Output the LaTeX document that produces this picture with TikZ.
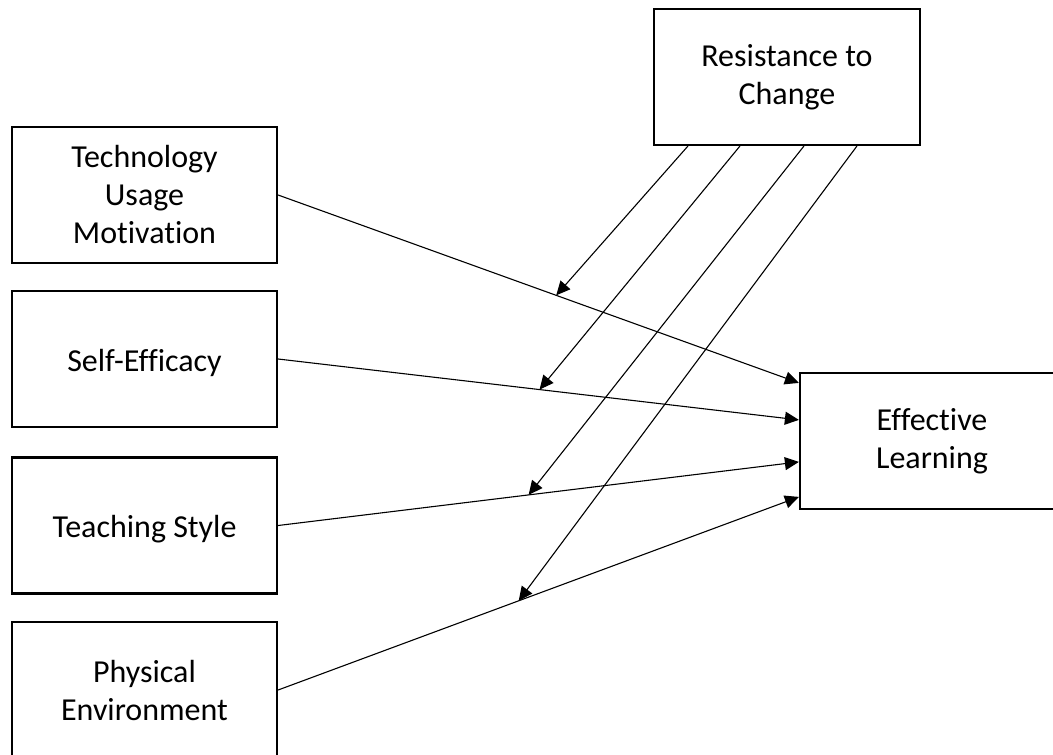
\documentclass[tikz,border=0pt]{standalone}
\usepackage{fontspec}
\setmainfont{Carlito}[Ligatures={NoCommon,NoContextual}]
\usetikzlibrary{arrows.meta,calc}
\begin{document}
\begin{tikzpicture}[x=1pt,y=-1pt,
  box/.style={draw, line width=2.2pt, minimum width=265pt, minimum height=136pt,
    align=center, inner sep=0pt, font=\fontsize{32}{38}\selectfont,
    execute at begin node={\rule{0pt}{30pt}}},
  conn/.style={line width=1.1pt, -{Triangle[length=14pt,width=13pt]}}]
\clip (0,0) rectangle (1053,755);
\fill[white] (0,0) rectangle (1053,755);
% boxes
\node[box] (tech)  at (144.5,195)   {Technology\\Usage\\Motivation};
\node[box] (self)  at (144.5,359)   {Self-Efficacy};
\node[box] (teach) at (144.5,525.5) {Teaching Style};
\node[box] (phys)  at (144.5,690)   {Physical\\Environment};
\node[box, minimum width=266pt] (res) at (787,77) {Resistance to\\Change};
\node[box, minimum width=264pt] (el)  at (932,441) {Effective\\Learning};
% attachment points
\coordinate (e1) at ($(el.north west)+(0,11)$);
\coordinate (e2) at ($(el.north west)+(0,48)$);
\coordinate (e3) at ($(el.north west)+(0,90)$);
\coordinate (e4) at ($(el.north west)+(0,125)$);
\coordinate (r1) at ($(res.south west)+(35,0)$);
\coordinate (r2) at ($(res.south west)+(87,0)$);
\coordinate (r3) at ($(res.south west)+(151,0)$);
\coordinate (r4) at ($(res.south west)+(204,0)$);
% main connectors
\draw[conn] (tech.east)  -- coordinate[pos=0.534] (m1) (e1);
\draw[conn] (self.east)  -- coordinate[pos=0.502] (m2) (e2);
\draw[conn] (teach.east) -- coordinate[pos=0.481] (m3) (e3);
\draw[conn] (phys.east)  -- coordinate[pos=0.462] (m4) (e4);
% moderating connectors
\draw[conn] (r1) -- (m1);
\draw[conn] (r2) -- (m2);
\draw[conn] (r3) -- (m3);
\draw[conn] (r4) -- (m4);
\end{tikzpicture}
\end{document}
